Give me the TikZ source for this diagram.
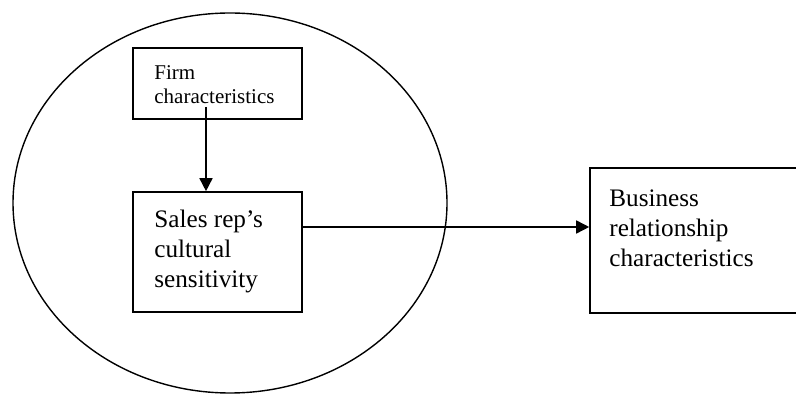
\documentclass[tikz,border=0pt]{standalone}
\usepackage{fontspec}
\setmainfont{Liberation Serif}
\usetikzlibrary{arrows.meta}

\begin{document}
\begin{tikzpicture}[x=0.5pt,y=-0.5pt,
  box/.style={draw,line width=0.8pt,rectangle,inner sep=0pt},
  small/.style={anchor=north west,align=left,inner sep=0pt,font=\fontsize{10.5}{12}\selectfont},
  large/.style={anchor=north west,align=left,inner sep=0pt,font=\fontsize{12.6}{15}\selectfont},
  arr/.style={line width=0.8pt,-{Triangle[length=6.5pt,width=6.5pt]}}]

% Marco
\clip (0,0) rectangle (796,394);

% Elipse
\draw[line width=0.7pt] (230,203) ellipse [x radius=217, y radius=190];

% Cajas
\node[box,minimum width=84.5pt,minimum height=35.5pt] (firm) at (217.5,83.5) {};
\node[small] (firmtext) at (154,65) {Firm\\characteristics};

\node[box,minimum width=84.5pt,minimum height=60pt] (sales) at (217.5,252) {};
\node[large] (salestext) at (154,210) {Sales rep’s\\cultural\\sensitivity};

\node[box,minimum width=130pt,minimum height=72.5pt] (biz) at (720,240.5) {};
\node[large] (biztext) at (609,189) {Business\\relationship\\characteristics};

% Flechas
\coordinate (tap) at (206,107);
\draw[arr] (tap) -- (tap |- sales.north);

\coordinate (link) at (302,227);
\draw[arr] (link) -- (link -| biz.west);

\end{tikzpicture}
\end{document}
